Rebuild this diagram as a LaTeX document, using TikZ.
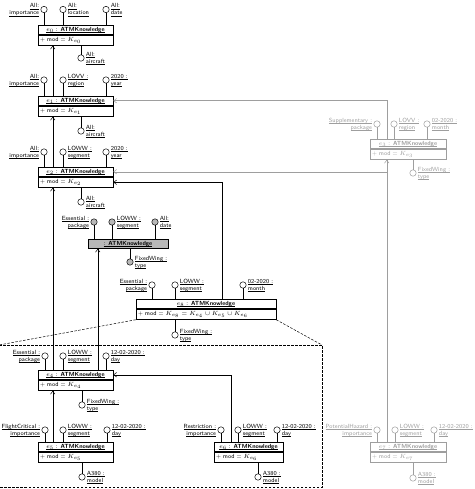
\documentclass[tikz,border=0pt]{standalone}
\usepackage{fontspec}
\usetikzlibrary{arrows.meta,calc}
\definecolor{lg}{gray}{0.62}
\definecolor{boxgray}{gray}{0.72}
\colorlet{fg}{black}
\colorlet{cf}{white}
\newcommand{\myul}[1]{{\setbox0\hbox{#1}\leavevmode\rlap{\raisebox{-1.6pt}{\rule{\wd0}{0.3pt}}}\box0}}
\tikzset{
  base/.style={font=\sffamily\fontsize{6}{7}\selectfont},
  ttl/.style={base, draw=fg, text=fg, fill=white, line width=0.5pt, minimum height=9.5pt, inner sep=0pt},
  bdy/.style={base, draw=fg, text=fg, fill=white, line width=0.5pt, minimum height=10.5pt, inner xsep=2pt, inner ysep=0pt, align=left, anchor=north},
  lolc/.style={circle, draw=fg, fill=cf, minimum size=6.4pt, inner sep=0pt, line width=0.5pt},
  lab/.style={base, text=fg, inner sep=0pt},
  stem/.style={draw=fg, line width=0.5pt},
  arr/.style={draw=fg, line width=0.5pt, -{Straight Barb[length=3pt,width=4.5pt]}},
  dsh/.style={draw=black, line width=0.5pt, dash pattern=on 2.5pt off 1.5pt},
}
\newcommand{\lolR}[7]{%
  \node[lolc] (#1) at (#2,#3) {};
  \node[lab, anchor=west, align=left] (#1t) at ([xshift=1.3pt,yshift=-0.3pt]#1.east) {\myul{#4}\\\myul{#5}};
  \draw[stem] (#1.#6) -- (#1.#6 |- #7);
}
\newcommand{\lolL}[7]{%
  \node[lolc] (#1) at (#2,#3) {};
  \node[lab, anchor=east, align=right] (#1t) at ([xshift=-1.3pt,yshift=-0.3pt]#1.west) {\myul{#4}\\\myul{#5}};
  \draw[stem] (#1.#6) -- (#1.#6 |- #7);
}
\begin{document}
\begin{tikzpicture}[x=1pt,y=-1pt]
\useasboundingbox (0,0) rectangle (474,489);

% ---------- e0
\node[ttl, minimum width=75pt] (e0t) at (75.5,29.75) {\myul{$e_0$ : \textbf{ATMKnowledge}}};
\node[bdy, text width=71pt] (e0b) at (e0t.south) {+ mod = $K_{e_0}$};
\lolL{a01}{44}{9.5}{All:}{importance}{south}{e0t.north}
\lolR{a02}{63}{9.5}{All:}{location}{south}{e0t.north}
\lolR{a03}{106}{9.5}{All:}{date}{south}{e0t.north}
\lolR{a04}{81}{58}{All:}{aircraft}{north}{e0b.south}

% ---------- e1
\node[ttl, minimum width=75pt] (e1t) at (75.5,100.75) {\myul{$e_1$ : \textbf{ATMKnowledge}}};
\node[bdy, text width=71pt] (e1b) at (e1t.south) {+ mod = $K_{e_1}$};
\lolL{a11}{44}{80}{All:}{importance}{south}{e1t.north}
\lolR{a12}{63}{80}{LOVV :}{region}{south}{e1t.north}
\lolR{a13}{106}{80}{2020 :}{year}{south}{e1t.north}
\lolR{a14}{81}{131}{All:}{aircraft}{north}{e1b.south}

% ---------- e2
\node[ttl, minimum width=75pt] (e2t) at (75.5,171.75) {\myul{$e_2$ : \textbf{ATMKnowledge}}};
\node[bdy, text width=71pt] (e2b) at (e2t.south) {+ mod = $K_{e_2}$};
\lolL{a21}{44}{152}{All:}{importance}{south}{e2t.north}
\lolR{a22}{63}{152}{LOWW :}{segment}{south}{e2t.north}
\lolR{a23}{106}{152}{2020 :}{year}{south}{e2t.north}
\lolR{a24}{81}{202}{All:}{aircraft}{north}{e2b.south}

% ---------- anonymous grey object
\node[ttl, fill=boxgray, minimum width=80pt] (gb) at (128,243.75) {\myul{: \textbf{ATMKnowledge}}};
\begin{scope}
\colorlet{cf}{boxgray}
\lolL{g1}{94}{222}{Essential :}{package}{south}{gb.north}
\lolR{g2}{112}{222}{LOWW :}{segment}{south}{gb.north}
\lolR{g3}{155}{222}{All:}{date}{south}{gb.north}
\lolR{g4}{130}{262}{FixedWing :}{type}{north}{gb.south}
\end{scope}

% ---------- e8
\node[ttl, minimum width=140pt] (e8t) at (206,303.75) {\myul{$e_8$ : \textbf{ATMKnowledge}}};
\node[bdy, text width=136pt] (e8b) at (e8t.south) {+ mod = $K_{e_8} = K_{e_4} \cup K_{e_5} \cup K_{e_6}$};
\lolL{a81}{152}{285}{Essential :}{package}{south}{e8t.north}
\lolR{a82}{175}{285}{LOWW :}{segment}{south}{e8t.north}
\lolR{a83}{243}{285}{02-2020 :}{month}{south}{e8t.north}
\lolR{a84}{175}{335}{FixedWing :}{type}{north}{e8b.south}

% ---------- e4
\node[ttl, minimum width=75pt] (e4t) at (75.5,374.75) {\myul{$e_4$ : \textbf{ATMKnowledge}}};
\node[bdy, text width=71pt] (e4b) at (e4t.south) {+ mod = $K_{e_4}$};
\lolL{a41}{45}{356}{Essential :}{package}{south}{e4t.north}
\lolR{a42}{63}{356}{LOWW :}{segment}{south}{e4t.north}
\lolR{a43}{106}{356}{12-02-2020 :}{day}{south}{e4t.north}
\lolR{a44}{82}{405}{FixedWing :}{type}{north}{e4b.south}

% ---------- e5
\node[ttl, minimum width=75pt] (e5t) at (75.5,446.75) {\myul{$e_5$ : \textbf{ATMKnowledge}}};
\node[bdy, text width=71pt] (e5b) at (e5t.south) {+ mod = $K_{e_5}$};
\lolL{a51}{45}{430}{FlightCritical :}{importance}{south}{e5t.north}
\lolR{a52}{63}{430}{LOWW :}{segment}{south}{e5t.north}
\lolR{a53}{107}{430}{12-02-2020 :}{day}{south}{e5t.north}
\lolR{a54}{82}{477}{A380 :}{model}{north}{e5b.south}

% ---------- e6
\node[ttl, minimum width=69pt] (e6t) at (248.5,446.75) {\myul{$e_6$ : \textbf{ATMKnowledge}}};
\node[bdy, text width=65pt] (e6b) at (e6t.south) {+ mod = $K_{e_6}$};
\lolL{a61}{221}{430}{Restriction :}{importance}{south}{e6t.north}
\lolR{a62}{238}{430}{LOWW :}{segment}{south}{e6t.north}
\lolR{a63}{277}{430}{12-02-2020 :}{day}{south}{e6t.north}
\lolR{a64}{258}{477}{A380 :}{model}{north}{e6b.south}

% ---------- black connectors
\draw[arr] ([xshift=15pt]e1t.north west) -- ([xshift=15pt]e0b.south west);
\draw[arr] ([xshift=15pt]e2t.north west) -- ([xshift=15pt]e1b.south west);
\draw[arr] ([xshift=15pt]e4t.north west) -- ([xshift=15pt]e2b.south west);
\draw[arr] ([xshift=15pt]e5t.north west) -- ([xshift=15pt]e4b.south west);
\draw[arr] ([xshift=60pt]e4t.north west) coordinate (c4) -- (c4 |- gb.south);
\draw[arr] ([xshift=17pt]e6t.north west) |- (e4t.east);
\draw[arr] ([xshift=86pt]e8t.north west) |- (e2b.east);

% ---------- dashed expansion region
\draw[dsh] (e8b.south west) -- (-1,345);
\draw[dsh] (e8b.south east) -- (322,345);
\draw[dsh] (-1,345) -- (322,345) -- (322,487) -- (-1,487);

% ---------- grey part
\begin{scope}
\colorlet{fg}{lg}
\node[ttl, minimum width=76pt] (e3t) at (408,143.75) {\myul{$e_3$ : \textbf{ATMKnowledge}}};
\node[bdy, text width=72pt] (e3b) at (e3t.south) {+ mod = $K_{e_3}$};
\lolL{a31}{377}{124}{Supplementary :}{package}{south}{e3t.north}
\lolR{a32}{394}{124}{LOVV :}{region}{south}{e3t.north}
\lolR{a33}{427}{124}{02-2020 :}{month}{south}{e3t.north}
\lolR{a34}{413}{173}{FixedWing :}{type}{north}{e3b.south}

\node[ttl, minimum width=76pt] (e7t) at (408,446.75) {\myul{$e_7$ : \textbf{ATMKnowledge}}};
\node[bdy, text width=72pt] (e7b) at (e7t.south) {+ mod = $K_{e_7}$};
\lolL{a71}{377}{430}{PotentialHazard :}{importance}{south}{e7t.north}
\lolR{a72}{395}{430}{LOWW :}{segment}{south}{e7t.north}
\lolR{a73}{434}{430}{12-02-2020 :}{day}{south}{e7t.north}
\lolR{a74}{413}{478}{A380 :}{model}{north}{e7b.south}

\draw[arr] ([xshift=17pt]e3t.north west) |- (e1t.east);
\draw[arr] ([xshift=17pt]e7t.north west) -- ([xshift=17pt]e3b.south west);
\draw[arr] ([xshift=17pt]e7t.north west) |- (e2t.east);
\end{scope}
\end{tikzpicture}
\end{document}
